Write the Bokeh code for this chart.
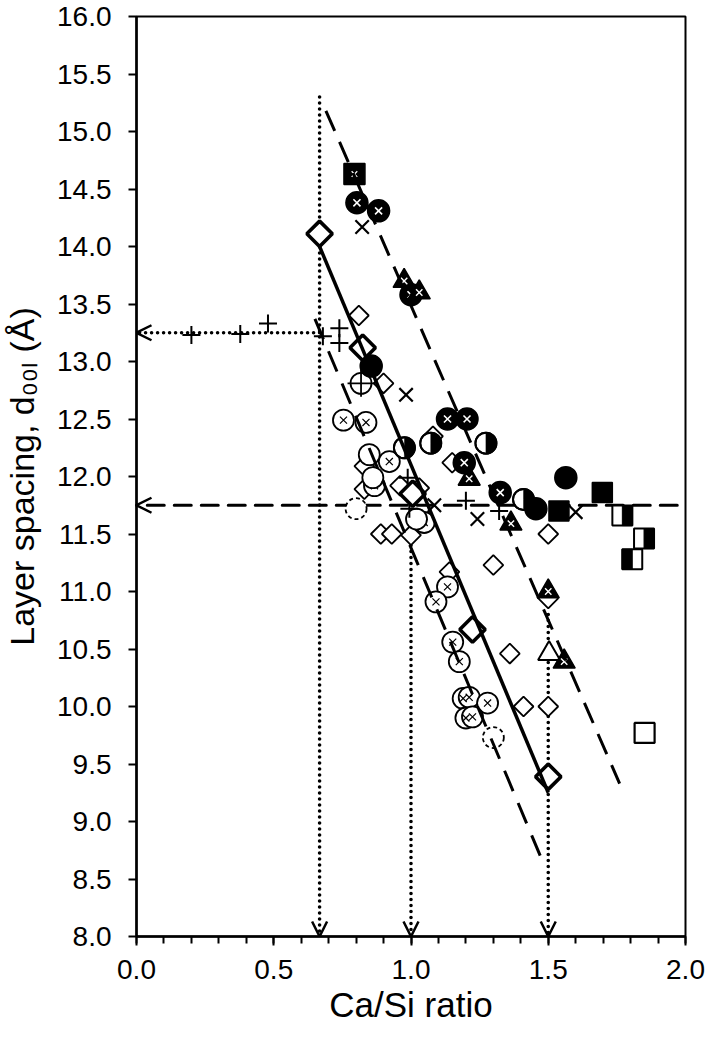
import math
from bokeh.plotting import figure
from bokeh.models import Range1d, FixedTicker, NumeralTickFormatter, Arrow, OpenHead
from bokeh.embed import file_html
from bokeh.resources import INLINE

# ---------------- data ----------------
x_ticks = [0.0, 0.5, 1.0, 1.5, 2.0]
x_minor = [round(0.1 * i, 1) for i in range(21)]
y_ticks = [8.0, 8.5, 9.0, 9.5, 10.0, 10.5, 11.0, 11.5, 12.0, 12.5, 13.0, 13.5, 14.0, 14.5, 15.0, 15.5, 16.0]
x_title = "Ca/Si ratio"
y_title = "Layer spacing, d\u2080\u2080\u2097 (\u00c5)"

# thin open diamonds
dia_x = [0.81, 0.90, 0.83, 0.83, 0.89, 0.93, 1.00, 0.96, 1.03, 1.08, 1.15, 1.14, 1.30, 1.36, 1.41, 1.50, 1.50, 1.50]
dia_y = [13.40, 12.81, 12.09, 11.89, 11.50, 11.50, 11.49, 11.92, 11.90, 12.35, 12.12, 11.17, 11.23, 10.46, 10.00, 10.00, 11.50, 10.94]
# bold open diamonds
bdia_x = [0.667, 0.824, 1.006, 1.224, 1.50]
bdia_y = [14.11, 13.12, 11.85, 10.67, 9.39]
# open circles with a cross (x) inside
ocx_x = [0.754, 0.836, 0.921, 0.867, 1.048, 1.133, 1.091, 1.152, 1.176, 1.190, 1.212, 1.279, 1.200, 1.224]
ocx_y = [12.49, 12.47, 12.13, 11.92, 11.60, 11.04, 10.91, 10.56, 10.39, 10.07, 10.08, 10.03, 9.90, 9.91]
# plain open circles
oc_x = [0.848, 0.861, 1.02]
oc_y = [12.19, 11.99, 11.63]
# open circle with plus
ocp_x = [0.818]
ocp_y = [12.81]
# dashed open circles
dc_x = [0.80, 1.30]
dc_y = [11.72, 9.73]
# filled circles with white x
fcx_x = [0.803, 0.882, 1.000, 1.133, 1.204, 1.194, 1.325]
fcx_y = [14.38, 14.31, 13.58, 12.50, 12.50, 12.12, 11.86]
# filled circles
fc_x = [0.855, 1.455, 1.564]
fc_y = [12.96, 11.72, 11.99]
# half-filled circles (right half black)
hc_x = [0.976, 1.072, 1.273, 1.410]
hc_y = [12.25, 12.29, 12.29, 11.80]
# filled squares
fs_x = [1.539, 1.697]
fs_y = [11.70, 11.86]
# filled square with white x
fsx_x = [0.794]
fsx_y = [14.63]
# half squares, right half black
hsr_x = [1.770, 1.849]
hsr_y = [11.66, 11.46]
# half squares, left half black
hsl_x = [1.806]
hsl_y = [11.28]
# open squares
os_x = [1.851]
os_y = [9.77]
# filled triangles with white x
ftx_x = [0.975, 1.030, 1.212, 1.364, 1.500, 1.558]
ftx_y = [13.70, 13.60, 11.98, 11.59, 11.00, 10.39]
# open triangles
ot_x = [1.503]
ot_y = [10.46]
# x markers
xm_x = [0.822, 0.982, 1.085, 1.242, 1.600]
xm_y = [14.17, 12.71, 11.75, 11.63, 11.69]
# plus markers
pm_x = [0.200, 0.378, 0.479, 0.679, 0.739, 0.739, 0.988, 0.994, 1.200, 1.321]
pm_y = [13.23, 13.24, 13.33, 13.22, 13.29, 13.16, 11.99, 11.72, 11.79, 11.70]

# trend lines
solid_x = [0.667, 1.50]
solid_y = [14.00, 9.25]
upper_x = [0.69, 1.76]
upper_y = [15.18, 9.33]
lower_x = [0.65, 1.48]
lower_y = [13.37, 8.65]

# guide arrows
vguide_x = [0.667, 1.0, 1.5]
vguide_top = [15.30, 11.40, 10.80]
vguide_bottom = 8.0
hdot_y = 13.25
hdot_from = 0.667
hdash_y = 11.75
hdash_from = 1.97
h_to = 0.0

# ---------------- layout / style ----------------
FONT = "Liberation Sans"
X0, X1, Y0, Y1 = 0.0, 2.0, 8.0, 16.0
W, H = 708, 1039
ML, MR, MT, MB = 135, 23, 16, 103
FRAME_W = W - ML - MR
PX_PER_X = FRAME_W / (X1 - X0)

p = figure(width=W, height=H, x_range=Range1d(X0, X1), y_range=Range1d(Y0, Y1),
           output_backend="svg", toolbar_location=None,
           min_border_left=ML, min_border_right=MR, min_border_top=MT, min_border_bottom=MB)
p.grid.visible = False
p.background_fill_color = "white"
p.border_fill_color = "white"
p.outline_line_color = "black"
p.outline_line_width = 2

for ax in (p.xaxis, p.yaxis):
    ax.axis_line_width = 2.5
    ax.axis_line_color = "black"
    ax.major_tick_line_width = 2
    ax.major_tick_line_color = "black"
    ax.major_tick_in = 0
    ax.minor_tick_in = 0
    ax.major_label_text_font = FONT
    ax.major_label_text_font_size = "28px"
    ax.major_label_text_color = "black"
    ax.formatter = NumeralTickFormatter(format="0.0")
    ax.axis_label_text_font = FONT
    ax.axis_label_text_font_style = "normal"
    ax.axis_label_text_color = "black"

p.xaxis.ticker = FixedTicker(ticks=x_ticks, minor_ticks=x_minor)
p.xaxis.major_tick_out = 9
p.xaxis.minor_tick_out = 7
p.xaxis.minor_tick_line_width = 2
p.xaxis.minor_tick_line_color = "black"
p.xaxis.major_label_standoff = 14
p.xaxis.axis_label = x_title
p.xaxis.axis_label_text_font_size = "35px"
p.xaxis.axis_label_standoff = 3

p.yaxis.ticker = FixedTicker(ticks=y_ticks, minor_ticks=[])
p.yaxis.major_tick_out = 8
p.yaxis.minor_tick_line_color = None
p.yaxis.major_label_standoff = 17
p.yaxis.axis_label = y_title
p.yaxis.axis_label_text_font_size = "34px"
p.yaxis.axis_label_standoff = 13

# ---------------- guide arrows (drawn beneath markers) ----------------
def arrow(xs, ys, xe, ye, dash, lw):
    a = Arrow(end=OpenHead(size=15, line_width=2.5, line_color="black"),
              x_start=xs, y_start=ys, x_end=xe, y_end=ye,
              line_color="black", line_width=lw, line_dash=dash, line_cap="round",
              level="underlay")
    p.add_layout(a)

for gx, gt in zip(vguide_x, vguide_top):
    arrow(gx, gt, gx, vguide_bottom, "0 6", 3.6)
arrow(hdot_from, hdot_y, h_to, hdot_y, "0 6", 3.6)
arrow(hdash_from, hdash_y, h_to, hdash_y, "17 10", 3)

# ---------------- markers ----------------
D45 = math.pi / 4

def sc(x, y, marker, size, fill="white", line="black", lw=1.5, angle=0.0, dash="solid"):
    p.scatter(x, y, marker=marker, size=size, fill_color=fill, line_color=line,
              line_width=lw, angle=angle, line_dash=dash)

sc(dia_x, dia_y, "square", 14, angle=D45, lw=1.8)
sc(ocx_x, ocx_y, "circle", 21, lw=1.8)
sc(ocx_x, ocx_y, "x", 10, lw=1.2)
sc(oc_x, oc_y, "circle", 21, lw=1.8)
sc(ocp_x, ocp_y, "circle", 21, lw=1.8)
sc(ocp_x, ocp_y, "cross", 27, lw=1.8)
sc(dc_x, dc_y, "circle", 21, lw=1.8, dash="4 3")
sc(xm_x, xm_y, "x", 19, lw=2.2)
sc(pm_x, pm_y, "cross", 18, lw=2)
sc(fc_x, fc_y, "circle", 22, fill="black")
sc(fcx_x, fcx_y, "circle", 22, fill="black")
sc(fcx_x, fcx_y, "x", 10, line="white", lw=1.6)

# half circles: white disk, black right wedge, outline
sc(hc_x, hc_y, "circle", 21, lw=1.8)
p.wedge(hc_x, hc_y, radius=10.5, radius_units="screen", start_angle=-math.pi / 2,
        end_angle=math.pi / 2, fill_color="black", line_color="black", line_width=0.5)
sc(hc_x, hc_y, "circle", 21, fill=None, lw=2)

sc(fs_x, fs_y, "square", 20, fill="black")
sc(fsx_x, fsx_y, "square", 21, fill="black")
sc(fsx_x, fsx_y, "x", 8, line="white", lw=1.2)
sc(os_x, os_y, "square", 20, lw=2.2)

# half squares
SQ = 20
HALF = SQ / 2
OFF = (HALF / 2) / PX_PER_X
sc(hsr_x, hsr_y, "square", SQ, lw=2)
p.rect([v + OFF for v in hsr_x], hsr_y, width=HALF, height=SQ, width_units="screen",
       height_units="screen", fill_color="black", line_color="black", line_width=1)
sc(hsl_x, hsl_y, "square", SQ, lw=2)
p.rect([v - OFF for v in hsl_x], hsl_y, width=HALF, height=SQ, width_units="screen",
       height_units="screen", fill_color="black", line_color="black", line_width=1)

sc(ot_x, ot_y, "triangle", 22, lw=2)
sc(ftx_x, ftx_y, "triangle", 22, fill="black")
sc(ftx_x, ftx_y, "x", 9, line="white", lw=1.4)

sc(bdia_x, bdia_y, "square", 18, angle=D45, lw=3.6)

# ---------------- trend lines ----------------
p.line(solid_x, solid_y, line_color="black", line_width=3.5)
p.line(upper_x, upper_y, line_color="black", line_width=3, line_dash="22 12")
p.line(lower_x, lower_y, line_color="black", line_width=3, line_dash="22 13")

open("out.html", "w").write(file_html(p, INLINE))
